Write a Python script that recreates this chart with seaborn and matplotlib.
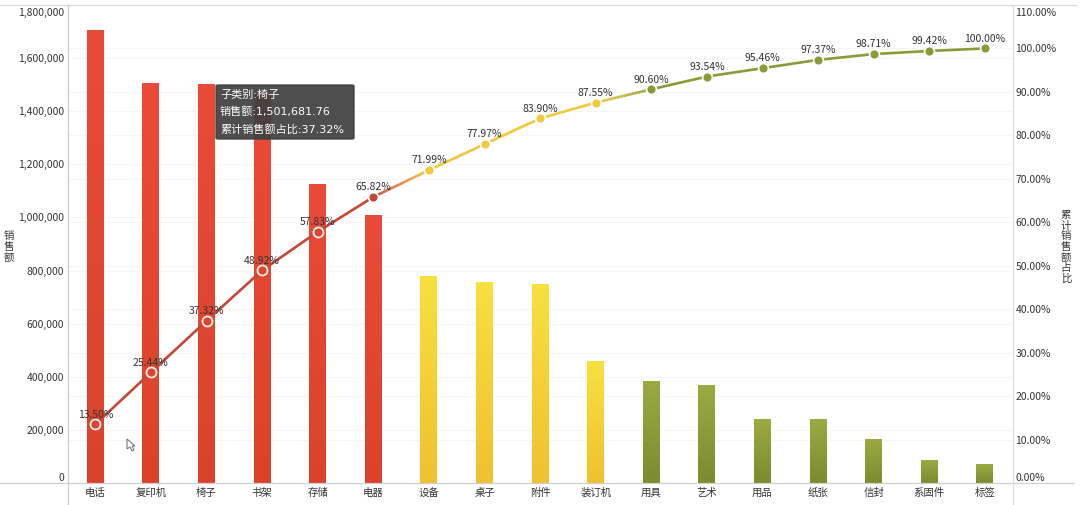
import numpy as np
import pandas as pd
import matplotlib
matplotlib.use('agg')
import matplotlib.pyplot as plt
import seaborn as sns
from matplotlib.collections import LineCollection
from matplotlib.colors import LinearSegmentedColormap, to_rgb
from matplotlib.lines import Line2D
from matplotlib.patches import FancyBboxPatch, Polygon
from matplotlib.transforms import ScaledTranslation

# values
categories = ['电话', '复印机', '椅子', '书架', '存储', '电器', '设备', '桌子', '附件',
              '装订机', '用具', '艺术', '用品', '纸张', '信封', '系固件', '标签']
sales = [1706000, 1508000, 1501682, 1466000, 1126000, 1010000, 780000, 756000, 749000,
         459000, 385000, 370000, 241000, 240000, 167000, 85000, 70000]
cum_share = [13.50, 25.44, 37.32, 48.92, 57.83, 65.82, 71.99, 77.97, 83.90,
             87.55, 90.60, 93.54, 95.46, 97.37, 98.71, 99.42, 100.00]
zones = ['A'] * 6 + ['B'] * 4 + ['C'] * 7
left_ticks = [0, 200000, 400000, 600000, 800000, 1000000, 1200000, 1400000, 1600000, 1800000]
right_ticks = [0, 10, 20, 30, 40, 50, 60, 70, 80, 90, 100, 110]
tooltip_lines = ['子类别:椅子', '销售额:1,501,681.76', '累计销售额占比:37.32%']
left_title = '销售额'
right_title = '累计销售额占比'

W, H = 1080, 505
TEXT = '#333333'
bar_top = {'A': '#E94B38', 'B': '#F8E03E', 'C': '#9BAA42'}
bar_bottom = {'A': '#DA4329', 'B': '#F0C030', 'C': '#7C8C2E'}
line_col = {'A': '#C4473A', 'B': '#F0C93F', 'C': '#8A9A38'}

sns.set_theme(style='white')
plt.rcParams['font.family'] = ['Noto Sans CJK SC', 'DejaVu Sans']


def fx(x):
    return x / W


def fy(y):
    return 1 - y / H


def nudge(label, px):
    # move the end labels of an axis inside the frame
    label.set_transform(label.get_transform() + ScaledTranslation(0, px / 100, fig.dpi_scale_trans))


def stacked_title(text, x, y_mid, step=10.6):
    # upright characters, one under the other
    for n, ch in enumerate(text):
        y = y_mid + (n - (len(text) - 1) / 2) * step
        fig.text(fx(x), fy(y), ch, ha='center', va='center', fontsize=7.5, color=TEXT)


df = pd.DataFrame({'category': categories, 'sales': sales, 'share': cum_share,
                   'zone': zones, 'pos': np.arange(len(categories))})

fig = plt.figure(figsize=(W / 100, H / 100), dpi=100)
ax = fig.add_axes([fx(67.5), fy(483), fx(1012.7 - 67.5), fy(5) - fy(483)])

sns.barplot(data=df, x='category', y='sales', color='#E94B38', width=0.305,
            saturation=1, ax=ax, zorder=2)
ax.set_xlim(-0.5, len(categories) - 0.5)
ax.set_ylim(0, 1800000)

# vertical gradient on each bar
for patch, zone in zip(ax.patches, zones):
    x0, w, h = patch.get_x(), patch.get_width(), patch.get_height()
    cmap = LinearSegmentedColormap.from_list('g', [bar_bottom[zone], bar_top[zone]])
    im = ax.imshow(np.linspace(0, 1, 64)[:, None], extent=[x0, x0 + w, 0, h], origin='lower',
                   cmap=cmap, aspect='auto', zorder=2.5)
    im.set_clip_path(patch)
ax.set_xlim(-0.5, len(categories) - 0.5)
ax.set_ylim(0, 1800000)

ax.set_xlabel('')
ax.set_ylabel('')
ax.set_yticks(left_ticks)
ax.set_yticklabels([f'{v:,}' for v in left_ticks])
ax.tick_params(axis='y', length=0, pad=2.5, labelsize=7.5, labelcolor=TEXT)
ax.tick_params(axis='x', length=0, pad=3.5, labelsize=7.5, labelcolor=TEXT)
ax.get_yticklabels()[0].set_va('bottom')
ax.get_yticklabels()[-1].set_va('top')
nudge(ax.get_yticklabels()[-1], -3)
for v in left_ticks[1:-1]:
    ax.axhline(v, color='#F6F6F6', lw=0.8, zorder=0)

ax2 = ax.twinx()
ax2.set_ylim(0, 110)
ax2.set_yticks(right_ticks)
ax2.set_yticklabels([f'{v:.2f}%' for v in right_ticks])
ax2.tick_params(axis='y', length=0, pad=2, labelsize=7.5, labelcolor=TEXT)
ax2.get_yticklabels()[0].set_va('bottom')
ax2.get_yticklabels()[-1].set_va('top')
nudge(ax2.get_yticklabels()[-1], -3)
ax2.set_ylabel('')
# right axis grid goes on the left axes so it stays behind the bars
for v in right_ticks[1:-1]:
    ax.axhline(v / 110 * 1800000, color='#F6F6F6', lw=0.8, zorder=0)

# cumulative line: flat colour inside a zone, fading across the zone borders
for zone in ['A', 'B', 'C']:
    sub = df[df.zone == zone]
    sns.lineplot(data=sub, x='pos', y='share', color=line_col[zone], lw=1.9,
                 ax=ax2, zorder=3, legend=False, errorbar=None)
for i in [5, 9]:
    t = np.linspace(0, 1, 41)
    xs = df.pos[i] + t * (df.pos[i + 1] - df.pos[i])
    ys = df.share[i] + t * (df.share[i + 1] - df.share[i])
    pts = np.column_stack([xs, ys])
    segs = np.stack([pts[:-1], pts[1:]], axis=1)
    c0, c1 = np.array(to_rgb(line_col[zones[i]])), np.array(to_rgb(line_col[zones[i + 1]]))
    cols = [c0 + (c1 - c0) * v for v in t[:-1]]
    ax2.add_collection(LineCollection(segs, colors=cols, linewidths=1.9, zorder=3))

# first five points sit on bars as white rings, the rest are solid with a white halo
rings = df[df.pos < 5]
sns.scatterplot(data=rings, x='pos', y='share', s=52, color='#DC452F', edgecolor='#FBEFE8',
                linewidth=1.3, ax=ax2, zorder=4, legend=False)
for zone in ['A', 'B', 'C']:
    sub = df[(df.zone == zone) & (df.pos >= 5)]
    sns.scatterplot(data=sub, x='pos', y='share', s=50, color=line_col[zone], edgecolor='white',
                    linewidth=1.2, ax=ax2, zorder=4, legend=False)
ax2.set_xlabel('')
ax2.set_ylabel('')
ax2.set_xlim(-0.5, len(categories) - 0.5)
ax2.set_ylim(0, 110)

for p, s in zip(df.pos, df.share):
    ax2.annotate(f'{s:.2f}%', (p, s), xytext=(0, 7), textcoords='offset points',
                 ha='center', va='center', fontsize=7.5, color=TEXT, zorder=5)

for a in (ax, ax2):
    for sp in a.spines.values():
        sp.set_visible(False)

# axis frame runs past the plot area
for (x0, y0, x1, y1, c) in [(0, 5, 1076, 5, '#D8D8D8'), (0, 483, 1074, 483, '#CFCFCF'),
                            (67.5, 5, 67.5, 505, '#CCCCCC'), (1012.7, 5, 1012.7, 505, '#DDDDDD')]:
    fig.add_artist(Line2D([fx(x0), fx(x1)], [fy(y0), fy(y1)], color=c, lw=0.9, zorder=1))

stacked_title(left_title, 8.5, 247)
stacked_title(right_title, 1066, 247)

# tooltip
box = FancyBboxPatch((fx(216), fy(139)), fx(138), fy(85) - fy(139), boxstyle='round,pad=0,rounding_size=0.002',
                     transform=fig.transFigure, fc='#404040', ec='#404040', alpha=0.93, lw=1.0, zorder=6)
fig.add_artist(box)
for txt, y in zip(tooltip_lines, [95, 112, 129]):
    fig.text(fx(220), fy(y), txt, ha='left', va='center', fontsize=8, color='white', zorder=7,
             family=['DejaVu Sans', 'Noto Sans CJK SC'])

# mouse pointer from the screenshot
cursor = [(127, 439), (127, 449), (130, 447), (132, 451), (134, 450), (132, 446), (135, 446)]
fig.add_artist(Polygon([(fx(x), fy(y)) for x, y in cursor], closed=True, transform=fig.transFigure,
                       fc='white', ec='#777777', lw=0.8, zorder=6))

fig.savefig('out.png', dpi=100)
